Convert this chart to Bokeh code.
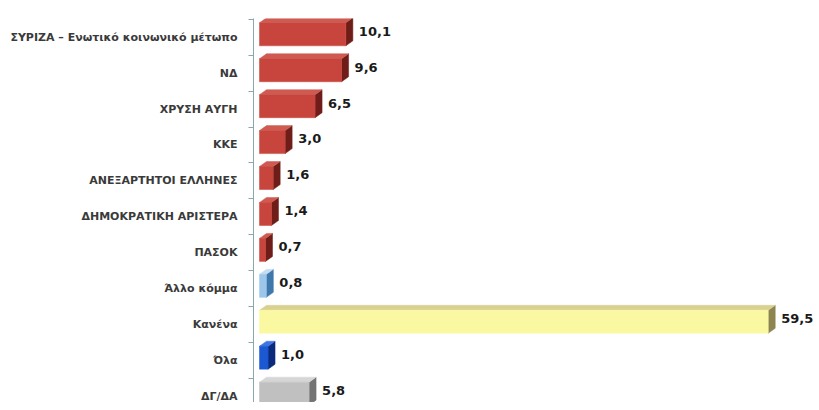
from bokeh.plotting import figure
from bokeh.models import Range1d, FixedTicker, ColumnDataSource
from bokeh.core.properties import value
from bokeh.embed import file_html
from bokeh.resources import INLINE

categories = ["ΣΥΡΙΖΑ – Ενωτικό κοινωνικό μέτωπο", "ΝΔ", "ΧΡΥΣΗ ΑΥΓΗ", "ΚΚΕ",
              "ΑΝΕΞΑΡΤΗΤΟΙ ΕΛΛΗΝΕΣ", "ΔΗΜΟΚΡΑΤΙΚΗ ΑΡΙΣΤΕΡΑ", "ΠΑΣΟΚ",
              "Άλλο κόμμα", "Κανένα", "Όλα", "ΔΓ/ΔΑ"]
values = [10.1, 9.6, 6.5, 3.0, 1.6, 1.4, 0.7, 0.8, 59.5, 1.0, 5.8]
groups = ["party"] * 7 + ["other", "none", "all", "dk"]

# front, top, side colours per group
palette = {
    "party": ("#c8453d", "#cf5a51", "#6e1d18"),
    "other": ("#9cc6ea", "#c4ddf3", "#3f78aa"),
    "none": ("#fbf8a2", "#d9d192", "#8c8550"),
    "all": ("#1b58d2", "#3f74e2", "#0b2a7c"),
    "dk": ("#c0c0c0", "#d6d6d6", "#747474"),
}

PX_X = 8.55          # px per unit on x
ROW = 36.0           # px per row
dx = 7 / PX_X
dy = 5 / ROW
f_top, f_bot = -0.40, 0.24

front = dict(left=[], right=[], top=[], bottom=[], color=[])
tops = dict(xs=[], ys=[], color=[])
sides = dict(xs=[], ys=[], color=[])
for i, (v, g) in enumerate(zip(values, groups)):
    cf, ct, cs = palette[g]
    ft, fb = i + f_top, i + f_bot
    front["left"].append(0); front["right"].append(v)
    front["top"].append(ft); front["bottom"].append(fb); front["color"].append(cf)
    tops["xs"].append([0, v, v + dx, dx]); tops["ys"].append([ft, ft, ft - dy, ft - dy]); tops["color"].append(ct)
    sides["xs"].append([v, v + dx, v + dx, v]); sides["ys"].append([ft, ft - dy, fb - dy, fb]); sides["color"].append(cs)

W, H = 815, 402
left_px, top_px = 253, 18
x0 = 259 - left_px
p = figure(width=W, height=H, output_backend="svg", toolbar_location=None,
           x_range=Range1d(-x0 / PX_X, (W - 259) / PX_X),
           y_range=Range1d(-0.5 + (H - top_px) / ROW, -0.52),
           x_axis_location=None,
           min_border_left=left_px, min_border_right=0, min_border_top=top_px, min_border_bottom=0)
p.outline_line_color = None
p.grid.visible = False

p.patches(xs="xs", ys="ys", color="color", source=ColumnDataSource(sides), line_width=0.5)
p.patches(xs="xs", ys="ys", color="color", source=ColumnDataSource(tops), line_width=0.5)
p.quad(left="left", right="right", top="top", bottom="bottom", color="color",
       source=ColumnDataSource(front), line_width=0.5)

lab = dict(x=[v + 13 / PX_X for v in values], y=[i - 6 / ROW for i in range(len(values))],
           t=[f"{v:.1f}".replace(".", ",") for v in values])
p.text(x="x", y="y", text="t", source=ColumnDataSource(lab), text_font=value("DejaVu Sans"),
       text_font_style="bold", text_font_size="13px", text_color="#1a1a1a",
       text_baseline="middle", text_align="left")

ax = p.yaxis[0]
ax.ticker = FixedTicker(ticks=list(range(len(categories))),
                        minor_ticks=[i - 0.5 for i in range(len(categories))])
ax.major_label_overrides = {i: c for i, c in enumerate(categories)}
ax.major_tick_out = 0
ax.major_tick_in = 0
ax.minor_tick_out = 5
ax.minor_tick_in = 0
ax.axis_line_color = "#8aa6b0"
ax.minor_tick_line_color = "#8aa6b0"
ax.major_label_standoff = 11
ax.major_label_text_font = "DejaVu Sans"
ax.major_label_text_font_style = "bold"
ax.major_label_text_font_size = "11px"
ax.major_label_text_color = "#3a3a3a"

open("out.html", "w").write(file_html(p, INLINE))
